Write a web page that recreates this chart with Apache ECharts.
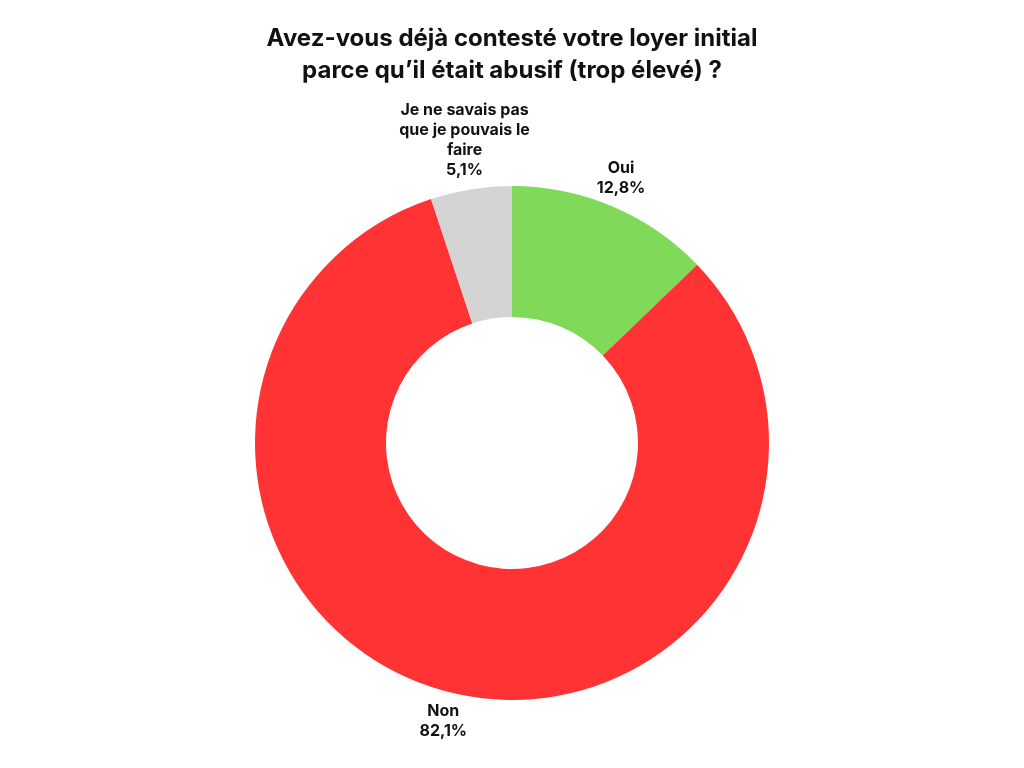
<!DOCTYPE html>
<html>
<head>
<meta charset="utf-8">
<script src="https://cdn.jsdelivr.net/npm/echarts@6/dist/echarts.min.js"></script>
<style>
html,body{margin:0;padding:0;background:#fff;}
#chart{width:1024px;height:768px;}
</style>
</head>
<body>
<div id="chart"></div>
<script>
const titleText = "Avez-vous déjà contesté votre loyer initial\nparce qu’il était abusif (trop élevé) ?";
const categories = ["Oui", "Non", "Je ne savais pas\nque je pouvais le\nfaire"];
const values = [12.8, 82.1, 5.1];
const colors = ["#80D958", "#FF3333", "#D4D4D4"];

const chart = echarts.init(document.getElementById('chart'));
chart.setOption({
  backgroundColor: '#ffffff',
  animation: false,
  title: {
    text: titleText,
    left: 'center',
    top: 18,
    textStyle: {
      fontFamily: 'Inter',
      fontWeight: 'bold',
      fontSize: 24,
      lineHeight: 32,
      color: '#111111'
    }
  },
  series: [{
    type: 'pie',
    center: ['50%', 443],
    radius: [126, 257],
    startAngle: 90,
    clockwise: true,
    avoidLabelOverlap: false,
    itemStyle: { borderWidth: 0 },
    label: {
      show: true,
      position: 'outside',
      fontFamily: 'Inter',
      fontWeight: 'bold',
      fontSize: 16,
      lineHeight: 20,
      color: '#111111',
      formatter: function (p) {
        return p.name + '\n' + String(p.value).replace('.', ',') + '%';
      }
    },
    labelLine: { show: false, length: 9, length2: 0 },
    labelLayout: function (params) {
      return {
        align: 'center',
        verticalAlign: params.dataIndex === 1 ? 'top' : 'bottom'
      };
    },
    data: categories.map(function (c, i) {
      return { name: c, value: values[i], itemStyle: { color: colors[i] } };
    })
  }]
});
</script>
</body>
</html>
